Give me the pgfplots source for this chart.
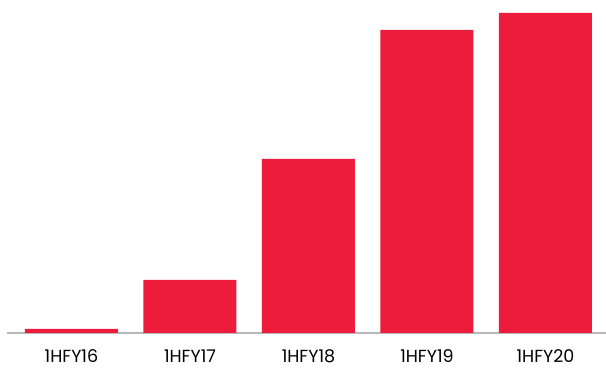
\documentclass[border=0pt]{standalone}
\usepackage{fontspec}
\setmainfont{Poppins}
\usepackage{pgfplots}
\pgfplotsset{compat=1.18}
\definecolor{barred}{RGB}{238,28,60}
\definecolor{axisgray}{RGB}{184,184,188}

\begin{document}
\begin{tikzpicture}
\begin{axis}[
    scale only axis,
    width=599pt, height=333pt,
    xmin=-0.544, xmax=4.511,
    ymin=0, ymax=333,
    axis x line*=bottom,
    hide y axis,
    x axis line style={draw=axisgray, line width=2pt},
    xtick=data,
    xticklabels={1HFY16,1HFY17,1HFY18,1HFY19,1HFY20},
    major tick length=0pt,
    xticklabel style={font=\fontsize{17.5}{20}\selectfont, text=black,
        inner sep=0pt, anchor=base, yshift=-30pt},
    /pgf/number format/assume math mode=true,
    ybar, bar width=93pt,
    clip=false,
]
\addplot[fill=barred, draw=none] coordinates {
    (0,4) (1,53) (2,174) (3,303) (4,320)
};
\end{axis}
\pgfresetboundingbox
\path (-7pt,-37pt) rectangle (599pt,333pt);
\end{tikzpicture}
\end{document}
